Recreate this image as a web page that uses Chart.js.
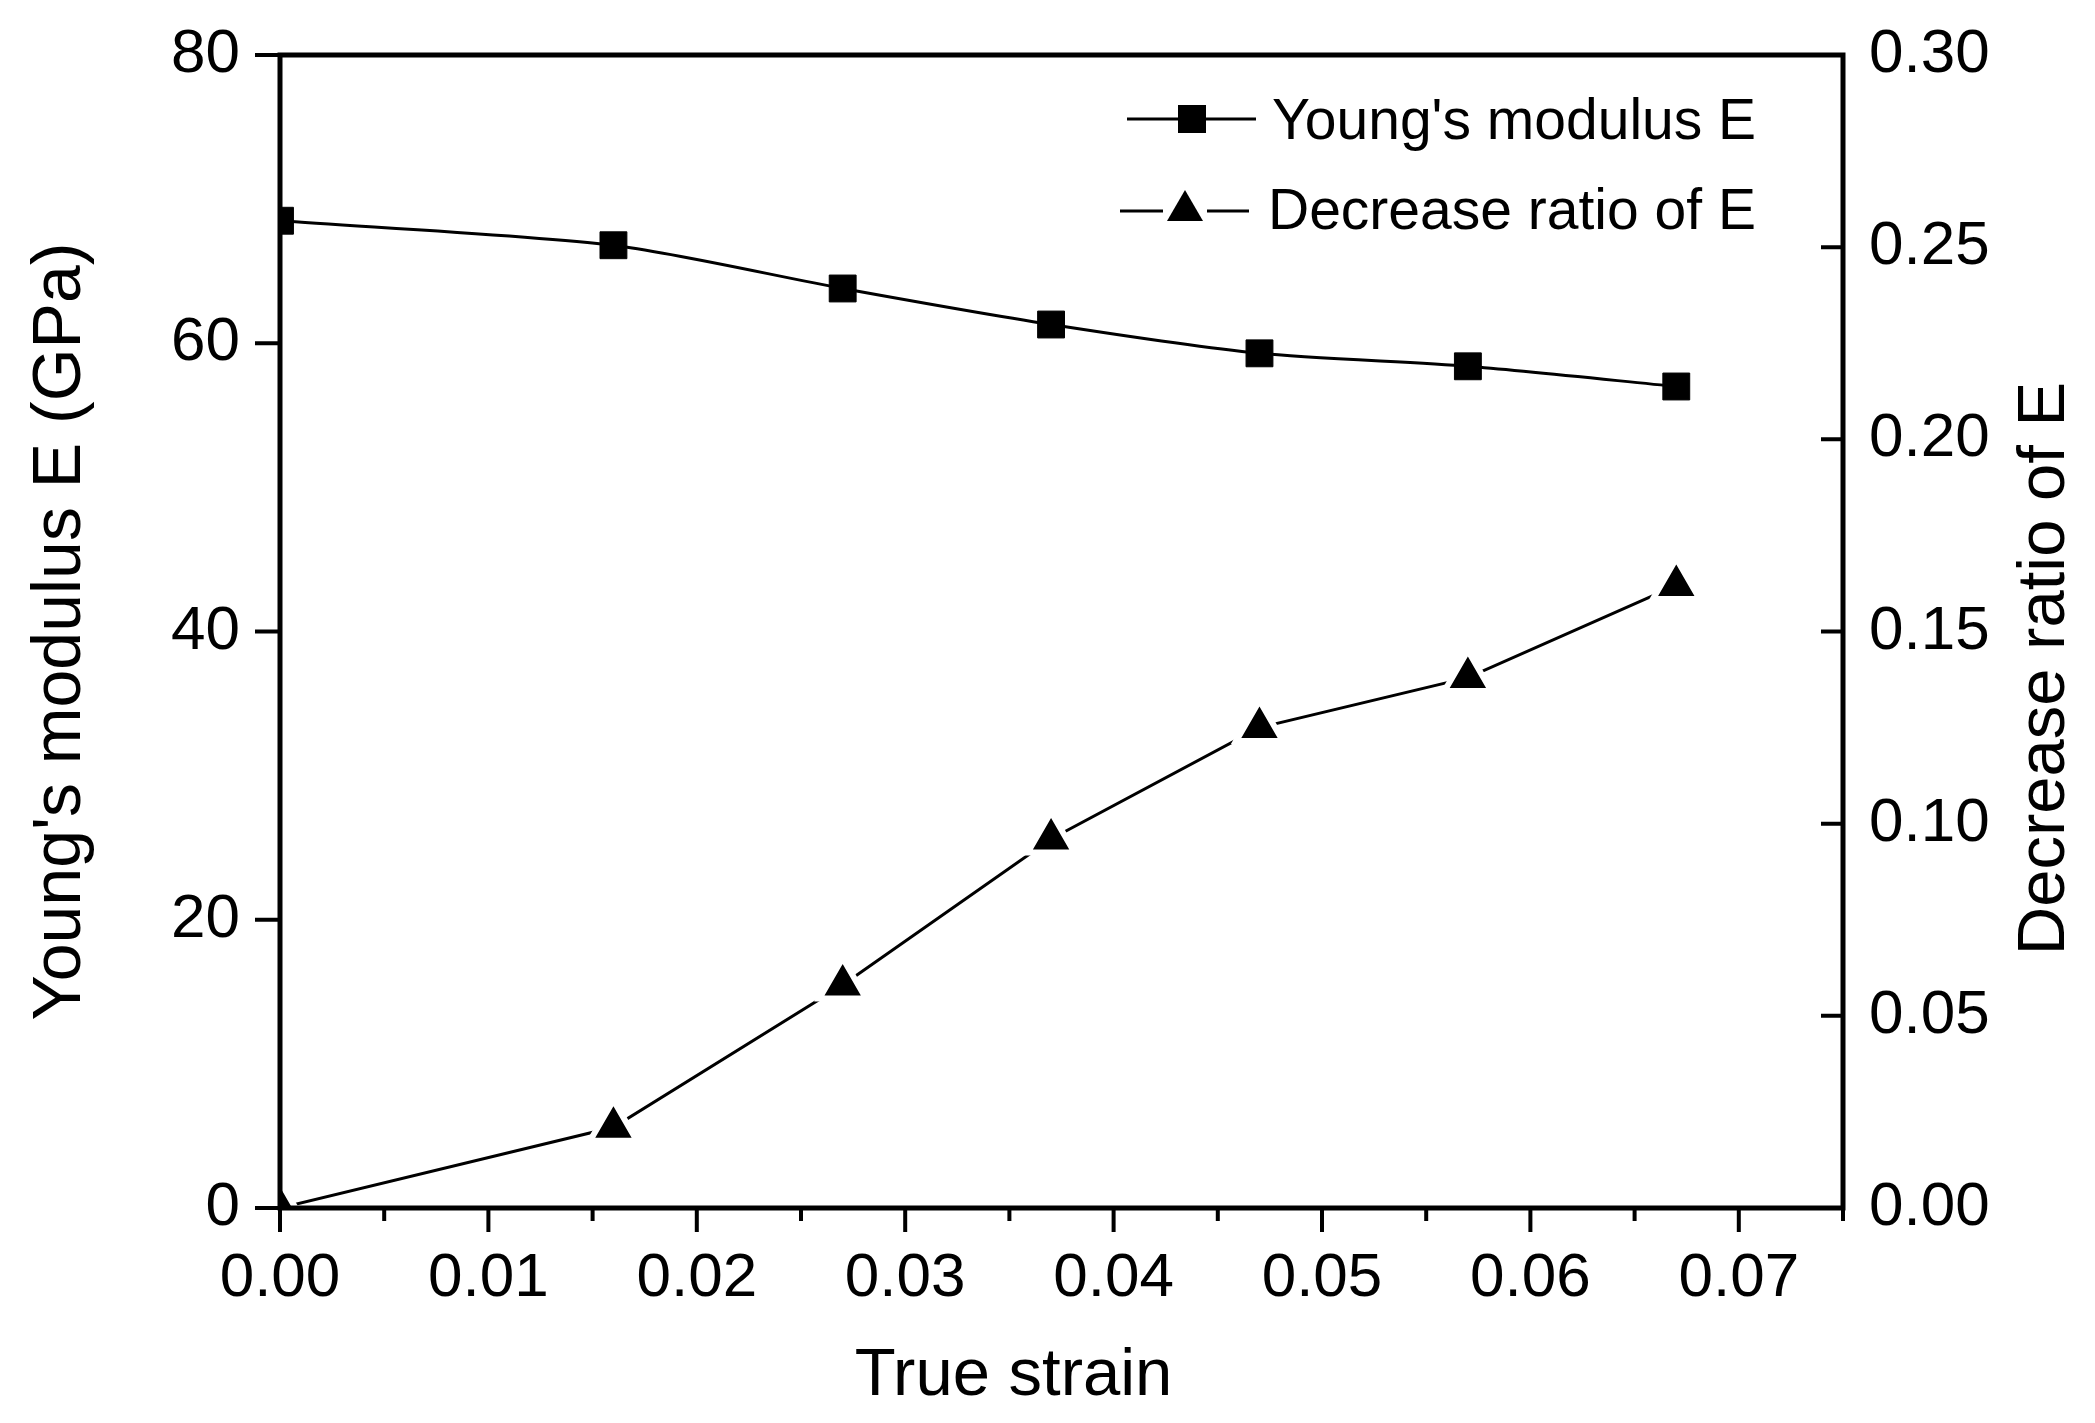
<!DOCTYPE html>
<html lang="en">
<head>
    <meta charset="UTF-8">
    <title>Young's modulus vs true strain</title>
    <style>
        body{
            margin:0;
            background:#fff;
        }
        .chart-box{
            width:2095px;
            height:1423px;
            position:relative;
        }
    </style>
</head>
<body>
    <div class="chart-box">
        <canvas id="mychart"></canvas>
    </div>
    <script src="https://cdn.jsdelivr.net/npm/chart.js@4.4.0/dist/chart.umd.min.js"></script>
    <script>
        /* values */
        const strain   = [0, 0.016, 0.027, 0.037, 0.047, 0.057, 0.067];
        const modulus  = [68.5, 66.8, 63.8, 61.3, 59.3, 58.4, 57.0];     // GPa
        const decrease = [0, 0.021, 0.058, 0.096, 0.125, 0.138, 0.162];  // ratio

        const labelE     = "Young's modulus E";
        const labelRatio = 'Decrease ratio of E';
        const titleX     = 'True strain';
        const titleLeft  = "Young's modulus E (GPa)";
        const titleRight = 'Decrease ratio of E';

        const xMin = 0, xMax = 0.075, xStep = 0.01;
        const yMin = 0, yMax = 80, yStep = 20;
        const rMin = 0, rMax = 0.30, rStep = 0.05;

        const FONT = "'Liberation Sans', Arial, sans-serif";
        Chart.defaults.font.family = FONT;
        Chart.defaults.color = '#000';

        // axes frame, ticks (outward left/bottom, inward right), legend and two titles
        const framePlugin = {
            id: 'frame',
            afterDraw(chart) {
                const {ctx, chartArea: a, scales} = chart;
                ctx.save();
                ctx.strokeStyle = '#000';
                ctx.fillStyle = '#000';

                ctx.lineWidth = 4;
                ctx.beginPath();
                scales.y.ticks.forEach(t => {
                    const p = scales.y.getPixelForValue(t.value);
                    ctx.moveTo(a.left, p); ctx.lineTo(a.left - 25, p);
                });
                scales.y1.ticks.forEach(t => {
                    const p = scales.y1.getPixelForValue(t.value);
                    ctx.moveTo(a.right, p); ctx.lineTo(a.right - 22, p);
                });
                scales.x.ticks.forEach(t => {
                    const p = scales.x.getPixelForValue(t.value);
                    ctx.moveTo(p, a.bottom); ctx.lineTo(p, a.bottom + 24);
                    // minor tick half way to the next one
                    const m = t.value + xStep / 2;
                    if (m <= xMax + 1e-9) {
                        const pm = scales.x.getPixelForValue(m);
                        ctx.moveTo(pm, a.bottom); ctx.lineTo(pm, a.bottom + 13);
                    }
                });
                ctx.stroke();

                ctx.lineWidth = 5;
                ctx.strokeRect(a.left, a.top, a.right - a.left, a.bottom - a.top);

                // titles that are not centred on the axis
                ctx.font = '67px ' + FONT;
                ctx.textAlign = 'center';
                ctx.textBaseline = 'middle';
                ctx.fillText(titleX, (a.left + a.right) / 2 - 48, a.bottom + 169);

                ctx.save();
                ctx.translate(a.right + 203, (a.top + a.bottom) / 2 + 37);
                ctx.rotate(-Math.PI / 2);
                ctx.fillText(titleRight, 0, 0);
                ctx.restore();

                // legend
                ctx.lineWidth = 3;
                ctx.beginPath();
                ctx.moveTo(1127, 119); ctx.lineTo(1256, 119);
                ctx.moveTo(1120, 211); ctx.lineTo(1163, 211);
                ctx.moveTo(1207, 211); ctx.lineTo(1249, 211);
                ctx.stroke();
                ctx.fillRect(1192 - 14, 119 - 14, 28, 28);
                ctx.beginPath();
                ctx.moveTo(1185, 190);
                ctx.lineTo(1185 - 18, 221);
                ctx.lineTo(1185 + 18, 221);
                ctx.closePath();
                ctx.fill();

                ctx.font = '57px ' + FONT;
                ctx.textAlign = 'left';
                ctx.fillText(chart.data.datasets[0].label, 1272, 123);
                ctx.fillText(chart.data.datasets[1].label, 1268, 213);

                ctx.restore();
            }
        };

        // keep the plot area fixed: no extra room for half tick labels
        function fixY(width) {
            return s => { s.width = width; s.paddingTop = 0; s.paddingBottom = 0; };
        }

        const mychart = document.getElementById('mychart');
        new Chart(mychart, {
            type: 'line',
            data: {
                datasets: [
                    {
                        label: labelE,
                        data: strain.map((v, i) => ({x: v, y: modulus[i]})),
                        yAxisID: 'y',
                        borderColor: '#000',
                        borderWidth: 3,
                        tension: 0.25,
                        pointStyle: 'rect',
                        pointRadius: 19,
                        pointBackgroundColor: '#000',
                        pointBorderColor: '#000',
                        pointBorderWidth: 1,
                        clip: 0
                    },
                    {
                        label: labelRatio,
                        data: strain.map((v, i) => ({x: v, y: decrease[i]})),
                        yAxisID: 'y1',
                        borderColor: '#000',
                        borderWidth: 3,
                        tension: 0,
                        pointStyle: 'triangle',
                        pointRadius: 27,
                        pointBackgroundColor: '#000',
                        pointBorderColor: '#fff',   // leaves a small gap between line and symbol
                        pointBorderWidth: 6,
                        clip: 0
                    }
                ]
            },
            options: {
                responsive: true,
                maintainAspectRatio: false,
                devicePixelRatio: 1,
                animation: false,
                layout: {padding: {top: 55, left: 0, right: 0, bottom: 0}},
                plugins: {
                    legend: {display: false},
                    tooltip: {enabled: false}
                },
                scales: {
                    x: {
                        type: 'linear',
                        position: 'bottom',
                        min: xMin,
                        max: xMax,
                        grid: {display: false, drawTicks: false},
                        border: {display: false},
                        ticks: {
                            stepSize: xStep,
                            includeBounds: false,
                            padding: 34,
                            maxRotation: 0,
                            autoSkip: false,
                            font: {size: 62},
                            callback: v => v.toFixed(2)
                        },
                        afterFit: s => { s.height = 215; s.paddingLeft = 0; s.paddingRight = 0; }
                    },
                    y: {
                        position: 'left',
                        min: yMin,
                        max: yMax,
                        grid: {display: false, drawTicks: false},
                        border: {display: false},
                        ticks: {
                            stepSize: yStep,
                            padding: 40,
                            font: {size: 62},
                            callback: v => String(v)
                        },
                        title: {
                            display: true,
                            text: titleLeft,
                            font: {size: 68},
                            padding: {top: 20, bottom: 0}
                        },
                        afterFit: fixY(280)
                    },
                    y1: {
                        position: 'right',
                        min: rMin,
                        max: rMax,
                        grid: {display: false, drawTicks: false},
                        border: {display: false},
                        ticks: {
                            stepSize: rStep,
                            padding: 26,
                            font: {size: 62},
                            callback: v => v.toFixed(2)
                        },
                        afterFit: fixY(252)
                    }
                }
            },
            plugins: [framePlugin]
        });
    </script>
</body>
</html>
